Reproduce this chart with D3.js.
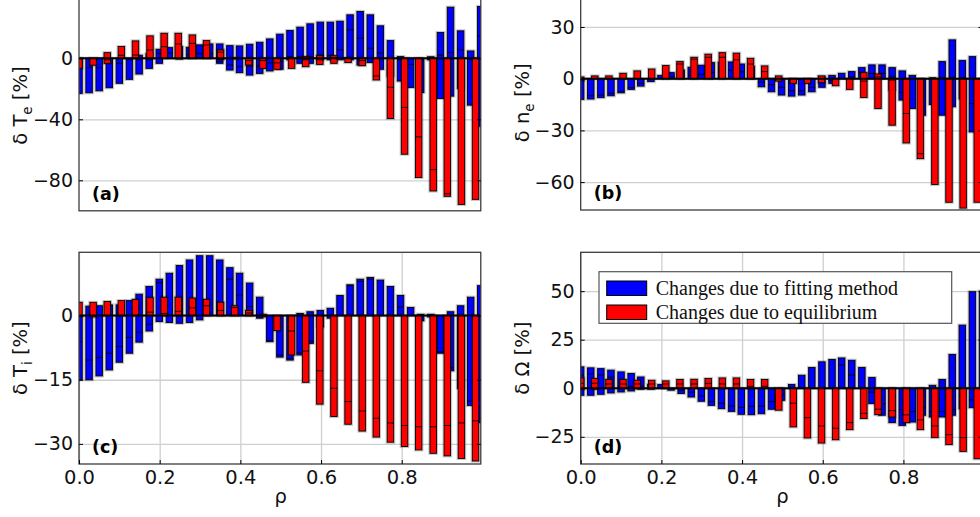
<!DOCTYPE html>
<html>
<head>
<meta charset="utf-8">
<script src="https://cdn.jsdelivr.net/npm/d3@7"></script>
<style>
  html, body { margin: 0; padding: 0; background: #fff; overflow: hidden; }
  svg { display: block; font-family: "DejaVu Sans", sans-serif; }
</style>
</head>
<body>
<svg id="fig" width="980" height="517"></svg>
<script>
(function () {
  "use strict";

  // rho grids of the two bar families
  var rhoBlue = [0, 0.025, 0.050, 0.075, 0.100, 0.125, 0.149, 0.174, 0.199, 0.224, 0.249,
    0.274, 0.299, 0.324, 0.349, 0.374, 0.398, 0.423, 0.448, 0.473, 0.498, 0.523, 0.548,
    0.573, 0.598, 0.623, 0.647, 0.672, 0.697, 0.722, 0.747, 0.772, 0.797, 0.822, 0.847,
    0.872, 0.896, 0.921, 0.946, 0.971, 0.996];
  var rhoRed = [0, 0.035, 0.070, 0.105, 0.140, 0.176, 0.211, 0.246, 0.281, 0.316, 0.351,
    0.386, 0.421, 0.456, 0.491, 0.527, 0.562, 0.597, 0.632, 0.667, 0.702, 0.737, 0.772,
    0.807, 0.842, 0.878, 0.913, 0.948, 0.983];

  // (a) delta Te [%]  -- lo / hi of each bar, plus the inner edge seen inside it
  var teBlueLo = [-23, -22.6, -21.3, -19.3, -16.4, -13.8, -10.3, -6.6, -3.3, 0, -0.5, 0, 0, 0,
    -3.3, -7.7, -9.4, -11, -9.9, -8.3, -7.2, -1, -3.3, -3.3, -1, -1, -1, -1, -4.4, -2.8, -7.2,
    -11.6, -14.9, -19.1, -22.4, -1, -26.3, -24.8, -19.7, -30.7, -44.5];
  var teBlueHi = [0, 0, 0, 0, 0, 0, 2, 3, 5.9, 7, 7.7, 7.2, 8.8, 9.4, 9.4, 8.3, 8.1, 9.2, 10.5,
    12.7, 15.8, 18.2, 20.4, 22.6, 23.7, 23.7, 24.3, 28.5, 30.7, 28.5, 21.3, 11.6, 1.1, 0, 0, 1,
    16.9, 33.5, 18, 4.8, 34];
  var teBlueMid = [null, -6.2, -6.2, -3.3, -3.3, -1, -1, -1, 3.3, 3.5, 3, 2.5, 3, 3, -2.2, -4.4,
    -5.5, -5.5, -5, -3, -2, 1, 1, 1, 2, 2, 5.5, 18.6, 13.2, 6.6, 3.5, -1.8, -1, -4, -1, null,
    2.2, 3.9, 5.5, -0.5, 14.7];
  var teRedLo = [-6.5, -4.5, -3.3, 0, 0, 0, 0, 0, 0, 0, -0.7, -0.3, -4.4, -6.6, -7.2, -6.6, -5.5,
    -4, -3.3, -2.8, -4.8, -14.2, -39.5, -62.9, -78.2, -87, -90.5, -95.8, -92.5];
  var teRedHi = [0, 0, 3.7, 7.7, 11.4, 14.7, 16.4, 16.4, 15.3, 11.6, 5.5, 0.3, 0, 0, 0, 0, 1.1,
    1.7, 1.7, 0.3, 0, 0, 0, 0, 0, 0, 0, 0, 0];
  var teRedMid = [null, null, -1, 2, 2.2, 5.4, 7.6, 9.4, 9.8, 8.7, 4, null, -1.5, -1.5, -3, null,
    -1, -1, 0.5, null, -1.5, -11.6, -19, -32.2, -51.5, -73, -88.8, null, null];

  // (b) delta ne [%]
  var neBlueLo = [-12, -11.8, -11, -9.9, -8.2, -6.2, -4.3, -1.7, 0, 0, 0, 0, 0, 0, 0, 0, 0, 0,
    -4.7, -7.6, -9.5, -10.1, -9.5, -7.6, -5, -2.7, 0, 0, 0, 0, 0, -6.6, -12.4, -17.3, -21.2,
    -15, -21.2, -16.3, -11.7, -30.9, -40];
  var neBlueHi = [0, 0, 0, 0, 0, 0, 0, 0, 1.9, 3.5, 5, 6.6, 7.8, 9.3, 9.5, 9.7, 8.5, 7, 0, 0, 0,
    0, 0, 0, 1.2, 1.9, 3.1, 4.1, 6.4, 8, 8, 6.4, 4.5, 1.9, 0, 0.5, 9.9, 22.5, 10.5, 12.8, 0];
  var neBlueMid = [null, -9.9, -9.5, -8.5, -7.6, -5.2, -2.7, null, null, 1, 1.5, 2, 2.5, 3.5, 4,
    5, 4, 2, -2, -3.5, -5, -7, -7, -5, -2, -1, null, 1, 3.5, 3, 3, 1, -8, null, null, null,
    0.5, 0.8, 0.5, -14.4, null];
  var neRedLo = [-1, 0, 0, 0, 0, 0, 0, 0, 0, 0, 0, 0, 0, 0, -1.4, -2.7, -2.7, -2.3, -4.1, -6.2,
    -10.9, -17.3, -27, -37.3, -46.4, -61.4, -71.7, -75.1, -71.7];
  var neRedHi = [1, 1.6, 1.6, 3.1, 4.5, 5.6, 7.6, 9.9, 12.4, 14.2, 15.1, 14.8, 11.8, 7.4, 1.6, 0,
    0, 1.6, 0, 0, 3.5, 2.7, 0, 0, 0, 0, 0, 0, 0];
  var neRedMid = [null, null, null, null, null, null, null, 8.5, 11.3, 12.4, 12.4, 10.9, 8.5, 4.1,
    null, null, null, null, null, null, -1.4, 1, -0.8, -20.2, -43.5, null, null, null, null];

  // (c) delta Ti [%]
  var tiBlueLo = [-15, -15, -14.1, -12.7, -10.9, -8.8, -6.2, -3.6, -1.4, -1.6, -1.8, -1.6, -1, 0,
    0, 0, 0, 0, -0.6, -6.1, -9.7, -10.4, -9.2, -6.5, -2.6, -0.6, 0, 0, 0, 0, 0, 0, 0, 0, -1.2,
    -0.3, -8.8, -12.9, -17, -21, -25];
  var tiBlueHi = [0, 2.2, 2.3, 2.5, 2.5, 3.5, 5, 6.8, 8.5, 9.9, 11.7, 13, 14, 14, 13, 11.2, 9.9,
    7.6, 4.3, 0, 0, 0, 0.5, 0.9, 1.2, 1.7, 4.7, 7.2, 8.5, 8.9, 8.3, 6.8, 4.7, 1.9, 0.3, 0.3, 0,
    0.9, 2.3, 4.3, 7];
  var tiBlueMid = [-6.1, -10.4, -9.8, -8.8, -7.2, -5.1, -3.9, -2, 7.7, null, null, null, null,
    null, null, 8.5, 4.8, 2.1, null, -5.8, -9.2, -10, -8.7, -6, -2, null, null, 7, 8, 8.5, null,
    null, 2, null, null, null, -8.5, -12.2, -16.5, -20, -24];
  var tiRedLo = [-0.2, -0.3, 0, 0, 0, 0, 0, 0, 0, 0, 0, 0, 0, -0.3, -3.5, -9.2, -15.6, -20.7,
    -23.6, -25.4, -27, -28.4, -29.6, -30.6, -31.4, -32.2, -32.8, -33.4, -34];
  var tiRedHi = [3.1, 3.1, 3.3, 3.5, 3.8, 4.2, 4.3, 4.3, 4.1, 3.8, 3.1, 2.3, 1.2, 0.3, 0, 0, 0, 0,
    0, 0, 0, 0, 0, 0, 0, 0, 0, 0, 0];
  var tiRedMid = [null, null, null, null, null, 0.8, 0.5, 1, 1.8, 2.3, 1.2, 1.9, 0.6, null, null,
    -3.6, -8.3, -12.9, -17, -20.1, -22.3, -24, -25.1, -25.7, -26, -26, -25.7, -25.1, -24.6];

  // (d) delta Omega [%]
  var omBlueLo = [-3.6, -3.6, -3.1, -2.4, -1.9, -1.4, -0.5, -0.5, 0, -1, -2.7, -4.5, -6.7, -8.8,
    -10.5, -11.9, -13.4, -13.6, -13.1, -10.8, -6.2, 0, 0, 0, 0, 0, 0, 0, 0, -7.9, -13.9, -17.7,
    -19.1, -17.4, -13.9, -14.8, -14.8, -13.9, -10.5, -10, -10];
  var omBlueHi = [11, 10.5, 10.1, 9.3, 8.4, 7.6, 5.8, 2, 1.9, 0, 0, 0, 0, 0, 0, 0, 0, 0, 0, 0, 0,
    1.9, 6.7, 10.7, 13.6, 14.8, 15.6, 14.4, 10.7, 5.5, 0, 0, 0, 0, 0, 1.5, 4.5, 17.4, 32.5,
    49.7, 50];
  var omBlueMid = [6.8, 7.4, 6.8, 5.7, 1, 1, 1, null, null, null, -1, -2, -4, -6.9, -7.7, -9.2,
    -9.9, -9.2, -9.2, -6.9, -3, null, null, null, null, null, 12, 6.8, null, -2, -8, -10, -11,
    -12, -10, -12, -12, -11, -8, -6, null];
  var omRedLo = [-0.5, -0.5, 0, 0, 0, 0, 0, 0, 0, 0, 0, 0, 0, 0, -11.3, -19.9, -25.6, -28.2,
    -26.5, -21.3, -15.6, -13.6, -14.8, -17.7, -21.3, -25.4, -29, -32.5, -36.3];
  var omRedHi = [5.3, 5, 4.5, 4.5, 4.1, 4.1, 3.8, 4.5, 4.6, 5, 5.3, 5.3, 4.5, 4.5, 0, 0, 0, 0, 0,
    0, 0, 0, 0, 0, 0, 0, 0, 0, 0];
  var omRedMid = [2.5, 2.6, 2.2, 2.2, 2.2, 2.2, 2.2, 2.2, 2.2, 2.5, 2.2, 2.2, 1, 1, null, -7.7,
    -15.1, -19.4, -20.6, -17.7, -12.9, -10.8, -11.5, -13.7, -16.3, -19.4, -23.9, -25.4, null];

  var xTicks = [0, 0.2, 0.4, 0.6, 0.8];
  var legendLabels = ["Changes due to fitting method", "Changes due to equilibrium"];

  var C = { blue: "#0000ff", red: "#ff0000", grid: "#cfcfcf", frame: "#3c3c3c" };
  var XMAX = 0.996, PX_PER_UNIT = 403.4, BAR_W = 0.016;

  var panels = [
    { tag: "(a)", left: 79, top: -2.7, bottom: 210.8, dom: [-100, 40], ticks: [0, -40, -80],
      sym: "δ T", sub: "e", blue: [teBlueLo, teBlueHi, teBlueMid], red: [teRedLo, teRedHi, teRedMid], bottomRow: false },
    { tag: "(b)", left: 580.7, top: -7.5, bottom: 210, dom: [-76.2, 50], ticks: [30, 0, -30, -60],
      sym: "δ n", sub: "e", blue: [neBlueLo, neBlueHi, neBlueMid], red: [neRedLo, neRedHi, neRedMid], bottomRow: false },
    { tag: "(c)", left: 79, top: 252.3, bottom: 464, dom: [-34.7, 14.8], ticks: [0, -15, -30],
      sym: "δ T", sub: "i", blue: [tiBlueLo, tiBlueHi, tiBlueMid], red: [tiRedLo, tiRedHi, tiRedMid], bottomRow: true },
    { tag: "(d)", left: 580.7, top: 252.3, bottom: 464, dom: [-39, 70], ticks: [50, 25, 0, -25],
      sym: "δ Ω", sub: "", blue: [omBlueLo, omBlueHi, omBlueMid], red: [omRedLo, omRedHi, omRedMid], bottomRow: true, legend: true }
  ];

  var svg = d3.select("#fig");
  var fmtY = function (v) { return v < 0 ? "\u2212" + Math.abs(v) : String(v); };

  panels.forEach(function (p, i) {
    var right = p.left + PX_PER_UNIT * XMAX;
    var x = d3.scaleLinear().domain([0, XMAX]).range([p.left, right]);
    var y = d3.scaleLinear().domain(p.dom).range([p.bottom, p.top]);
    var W = right - p.left, H = p.bottom - p.top;
    var g = svg.append("g");

    g.append("clipPath").attr("id", "clip" + i)
      .append("rect").attr("x", p.left).attr("y", p.top).attr("width", W).attr("height", H);

    // grid
    g.append("g").attr("transform", "translate(" + p.left + ",0)")
      .call(d3.axisLeft(y).tickValues(p.ticks).tickSize(-W).tickFormat(""))
      .call(function (s) { s.select(".domain").remove(); s.selectAll("line").attr("stroke", C.grid).attr("stroke-width", 1.3); });
    if (p.bottomRow) {
      g.append("g").attr("transform", "translate(0," + p.bottom + ")")
        .call(d3.axisBottom(x).tickValues(xTicks).tickSize(-H).tickFormat(""))
        .call(function (s) { s.select(".domain").remove(); s.selectAll("line").attr("stroke", C.grid).attr("stroke-width", 1.3); });
    }

    // bars: blue first, red on top
    var bars = g.append("g").attr("clip-path", "url(#clip" + i + ")");
    var bw = x(BAR_W) - x(0);
    function drawSet(rho, lo, hi, mid, color) {
      var data = rho.map(function (r, k) { return { r: r, lo: lo[k], hi: hi[k], mid: mid[k] }; })
        .filter(function (d) { return d.hi - d.lo > 0; });
      var grp = bars.append("g");
      grp.selectAll("rect.halo").data(data).join("rect").attr("class", "halo")
        .attr("x", function (d) { return x(d.r) - bw / 2; })
        .attr("y", function (d) { return y(d.hi); })
        .attr("width", bw)
        .attr("height", function (d) { return Math.max(1, y(d.lo) - y(d.hi)); })
        .attr("fill", "none").attr("stroke", "#000").attr("stroke-opacity", 0.22).attr("stroke-width", 3.2);
      grp.selectAll("rect.bar").data(data).join("rect").attr("class", "bar")
        .attr("x", function (d) { return x(d.r) - bw / 2; })
        .attr("y", function (d) { return y(d.hi); })
        .attr("width", bw)
        .attr("height", function (d) { return Math.max(1, y(d.lo) - y(d.hi)); })
        .attr("fill", color).attr("stroke", "#000").attr("stroke-width", 0.9);
      // inner edges of the overlapping cases
      grp.selectAll("line.mid").data(data.filter(function (d) { return d.mid != null; })).join("line")
        .attr("class", "mid")
        .attr("x1", function (d) { return x(d.r) - bw / 2; })
        .attr("x2", function (d) { return x(d.r) + bw / 2; })
        .attr("y1", function (d) { return y(d.mid); })
        .attr("y2", function (d) { return y(d.mid); })
        .attr("stroke", "#000").attr("stroke-width", 0.9);
    }
    drawSet(rhoBlue, p.blue[0], p.blue[1], p.blue[2], C.blue);
    drawSet(rhoRed, p.red[0], p.red[1], p.red[2], C.red);

    // zero line
    bars.append("line").attr("x1", p.left).attr("x2", right).attr("y1", y(0)).attr("y2", y(0))
      .attr("stroke", "#000").attr("stroke-width", 2);

    // frame
    g.append("rect").attr("x", p.left).attr("y", p.top).attr("width", W).attr("height", H)
      .attr("fill", "none").attr("stroke", C.frame).attr("stroke-width", 1.3);

    // y axis (inward ticks) + mirrored ticks on the right
    g.append("g").attr("transform", "translate(" + p.left + ",0)")
      .call(d3.axisLeft(y).tickValues(p.ticks).tickSize(-4).tickPadding(6).tickFormat(fmtY))
      .call(function (s) {
        s.select(".domain").remove();
        s.selectAll("line").attr("stroke", "#000");
        s.selectAll("text").attr("font-size", 19).attr("fill", "#111")
          .attr("font-family", "DejaVu Sans");
      });
    g.append("g").attr("transform", "translate(" + right + ",0)")
      .call(d3.axisRight(y).tickValues(p.ticks).tickSize(-4).tickFormat(""))
      .call(function (s) { s.select(".domain").remove(); s.selectAll("line").attr("stroke", "#000"); });

    if (p.bottomRow) {
      g.append("g").attr("transform", "translate(0," + p.bottom + ")")
        .call(d3.axisBottom(x).tickValues(xTicks).tickSize(-4).tickPadding(6).tickFormat(d3.format(".1f")))
        .call(function (s) {
          s.select(".domain").remove();
          s.selectAll("line").attr("stroke", "#000");
          s.selectAll("text").attr("font-size", 19.5).attr("fill", "#111")
            .attr("font-family", "DejaVu Sans");
        });
      g.append("text").attr("x", (p.left + p.left + PX_PER_UNIT) / 2).attr("y", 503)
        .attr("text-anchor", "middle").attr("font-size", 19.5).attr("fill", "#111").text("ρ");
    }

    // y label
    var lab = g.append("text")
      .attr("transform", "translate(" + (p.left - 52) + "," + ((p.top + p.bottom) / 2 + (p.top < 0 ? 1.5 : 0)) + ") rotate(-90)")
      .attr("text-anchor", "middle").attr("font-size", 19.5).attr("fill", "#111");
    lab.append("tspan").text(p.sym);
    if (p.sub) lab.append("tspan").attr("font-size", 13.5).attr("dy", 5).text(p.sub);
    lab.append("tspan").attr("dy", p.sub ? -5 : 0).text(" [%]");

    // panel tag
    g.append("text").attr("x", p.left + 13).attr("y", p.bottom - 11)
      .attr("font-size", 17.5).attr("font-weight", "bold").attr("fill", "#000").text(p.tag);

    if (p.legend) {
      var lg = g.append("g");
      lg.append("rect").attr("x", 599).attr("y", 271.7).attr("width", 352.7).attr("height", 51.6)
        .attr("fill", "#fff").attr("stroke", "#555").attr("stroke-width", 1.2);
      [C.blue, C.red].forEach(function (col, j) {
        lg.append("rect").attr("x", 606.7).attr("y", 281 + j * 24).attr("width", 40).attr("height", 14.5)
          .attr("fill", col).attr("stroke", "#000").attr("stroke-width", 1);
        lg.append("text").attr("x", 655.7).attr("y", 295 + j * 23.5)
          .attr("font-family", "Liberation Serif, serif").attr("font-size", 20).attr("fill", "#111")
          .text(legendLabels[j]);
      });
    }
  });
})();
</script>
</body>
</html>
